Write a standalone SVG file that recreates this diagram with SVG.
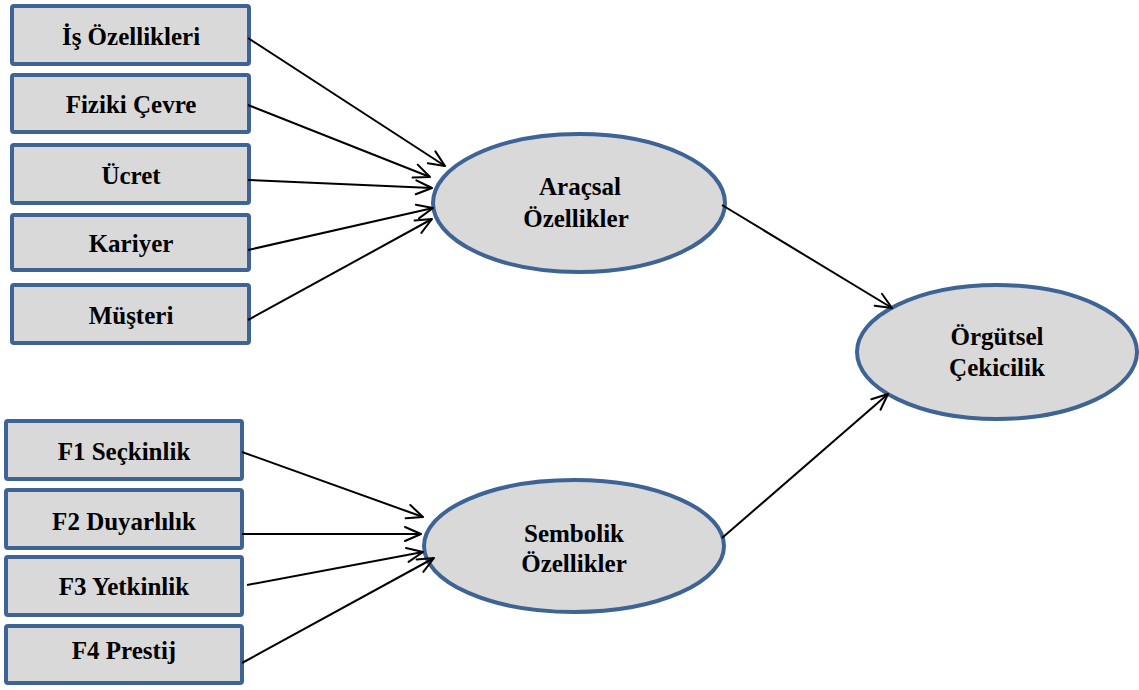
<svg xmlns="http://www.w3.org/2000/svg" width="1139" height="690" viewBox="0 0 1139 690">
  <style>
    .box { fill: #D9D9D9; stroke: #3E6395; stroke-width: 4; }
    .oval { fill: #D9D9D9; stroke: #3E6395; stroke-width: 4; }
    .lbl { font-family: 'Liberation Serif', 'Times New Roman', 'DejaVu Serif', serif; font-weight: 700; font-size: 25px; fill: #000; text-anchor: middle; }
    .edge { stroke: #000; stroke-width: 2; fill: none; marker-end: url(#arrow); }
  </style>
  <defs>
    <marker id="arrow" markerUnits="userSpaceOnUse" markerWidth="20" markerHeight="18" viewBox="-2 -2 20 18" refX="16" refY="7" orient="auto">
      <path d="M0,0 L16,7 L0,14" fill="none" stroke="#000" stroke-width="2" stroke-linejoin="round" stroke-linecap="round"/>
    </marker>
  </defs>
  <rect width="1139" height="690" fill="#fff"/>

  <!-- instrumental attribute inputs -->
  <g id="is-ozellikleri">
    <rect class="box" x="12" y="6" width="237" height="58" rx="2"/>
    <text class="lbl" x="131" y="45">İş Özellikleri</text>
  </g>
  <g id="fiziki-cevre">
    <rect class="box" x="12" y="75" width="237" height="57" rx="2"/>
    <text class="lbl" x="131" y="113">Fiziki Çevre</text>
  </g>
  <g id="ucret">
    <rect class="box" x="12" y="145" width="237" height="58" rx="2"/>
    <text class="lbl" x="131" y="184">Ücret</text>
  </g>
  <g id="kariyer">
    <rect class="box" x="12" y="215" width="237" height="55" rx="2"/>
    <text class="lbl" x="131" y="252">Kariyer</text>
  </g>
  <g id="musteri">
    <rect class="box" x="12" y="285" width="237" height="58" rx="2"/>
    <text class="lbl" x="131" y="324">Müşteri</text>
  </g>

  <!-- symbolic attribute inputs -->
  <g id="f1">
    <rect class="box" x="6" y="421" width="236" height="58" rx="2"/>
    <text class="lbl" x="124" y="460">F1 Seçkinlik</text>
  </g>
  <g id="f2">
    <rect class="box" x="6" y="490" width="236" height="58" rx="2"/>
    <text class="lbl" x="124" y="530">F2 Duyarlılık</text>
  </g>
  <g id="f3">
    <rect class="box" x="6" y="557" width="236" height="58" rx="2"/>
    <text class="lbl" x="124" y="595">F3 Yetkinlik</text>
  </g>
  <g id="f4">
    <rect class="box" x="6" y="626" width="236" height="57" rx="2"/>
    <text class="lbl" x="124" y="659">F4 Prestij</text>
  </g>

  <!-- latent constructs -->
  <g id="aracsal">
    <ellipse class="oval" cx="579" cy="203" rx="146" ry="69"/>
    <text class="lbl" x="580" y="195">Araçsal</text>
    <text class="lbl" x="576" y="227">Özellikler</text>
  </g>
  <g id="sembolik">
    <ellipse class="oval" cx="574" cy="546" rx="150" ry="66"/>
    <text class="lbl" x="574" y="542">Sembolik</text>
    <text class="lbl" x="574" y="572">Özellikler</text>
  </g>
  <g id="orgutsel">
    <ellipse class="oval" cx="997" cy="352" rx="140" ry="67"/>
    <text class="lbl" x="997" y="345">Örgütsel</text>
    <text class="lbl" x="997" y="376">Çekicilik</text>
  </g>

  <!-- paths -->
  <g id="connectors">
    <line class="edge" x1="248" y1="38" x2="445" y2="166"/>
    <line class="edge" x1="248" y1="105" x2="430" y2="177"/>
    <line class="edge" x1="248" y1="180" x2="432" y2="188"/>
    <line class="edge" x1="248" y1="250" x2="433" y2="208"/>
    <line class="edge" x1="248" y1="320" x2="432" y2="219"/>
    <line class="edge" x1="242" y1="452" x2="423" y2="517"/>
    <line class="edge" x1="242" y1="534" x2="421" y2="534"/>
    <line class="edge" x1="247" y1="585" x2="423" y2="552"/>
    <line class="edge" x1="242" y1="663" x2="434" y2="558"/>
    <line class="edge" x1="722" y1="205" x2="892" y2="308"/>
    <line class="edge" x1="722" y1="538" x2="888" y2="394"/>
  </g>
</svg>
